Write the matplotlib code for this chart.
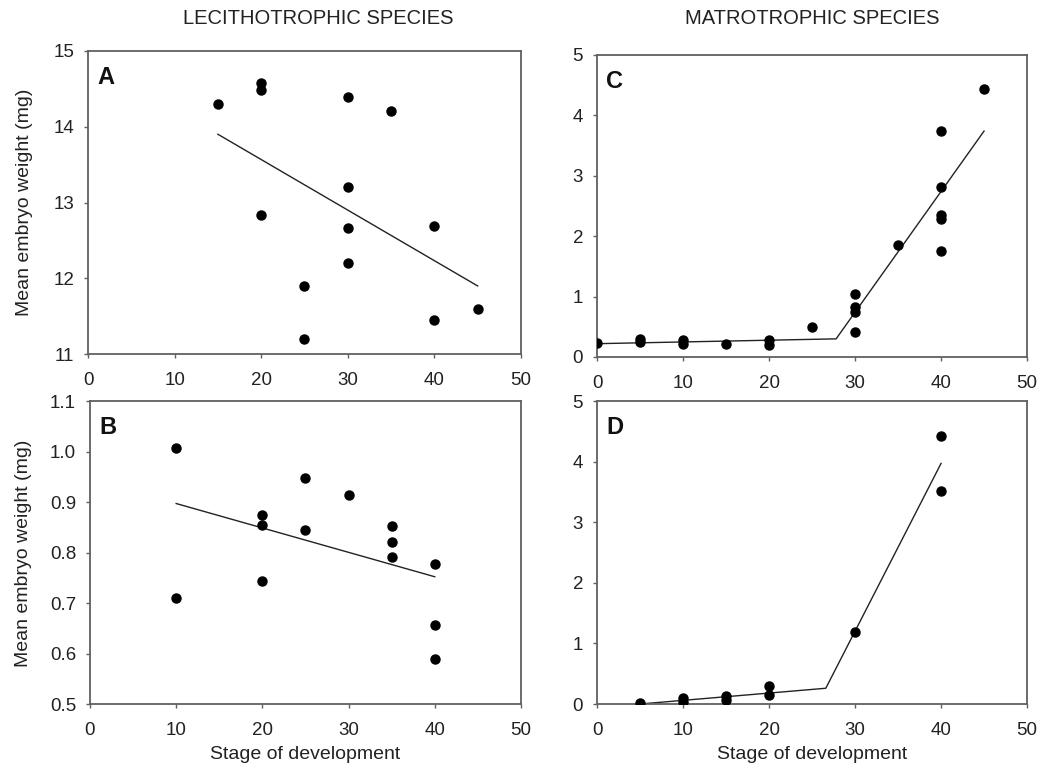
import matplotlib
matplotlib.use('Agg')
import matplotlib.pyplot as plt

plt.rcParams['font.family'] = ['Liberation Sans', 'DejaVu Sans']

# panel A - lecithotrophic, first species
a_x = [15, 20, 20, 20, 25, 25, 30, 30, 30, 30, 35, 40, 40, 45]
a_y = [14.30, 14.57, 14.49, 12.83, 11.90, 11.20, 14.39, 13.20, 12.66, 12.20, 14.20, 12.69, 11.45, 11.59]
a_fit_x = [15, 45]
a_fit_y = [13.90, 11.90]

# panel B - lecithotrophic, second species
b_x = [10, 10, 20, 20, 20, 25, 25, 30, 35, 35, 35, 40, 40, 40]
b_y = [1.007, 0.709, 0.875, 0.854, 0.743, 0.948, 0.845, 0.914, 0.852, 0.820, 0.791, 0.778, 0.657, 0.590]
b_fit_x = [10, 40]
b_fit_y = [0.897, 0.752]

# panel C - matrotrophic, first species
c_x = [0, 5, 5, 10, 10, 15, 20, 20, 25, 30, 30, 30, 30, 35, 40, 40, 40, 40, 40, 45]
c_y = [0.23, 0.30, 0.24, 0.28, 0.21, 0.22, 0.28, 0.19, 0.49, 1.05, 0.83, 0.74, 0.41, 1.86,
       3.74, 2.81, 2.35, 2.28, 1.75, 4.43]
c_fit_x = [0, 27.8, 45]
c_fit_y = [0.22, 0.30, 3.74]

# panel D - matrotrophic, second species
d_x = [5, 10, 10, 15, 15, 20, 20, 30, 40, 40]
d_y = [0.02, 0.10, 0.04, 0.14, 0.07, 0.30, 0.15, 1.19, 4.42, 3.52]
d_fit_x = [5, 26.6, 40]
d_fit_y = [0.0, 0.26, 3.97]


def panel(ax, x, y, fx, fy, letter, ylim, yticks, yfmt):
	ax.plot(fx, fy, color='#222222', lw=1.0, zorder=2)
	ax.plot(x, y, 'o', color='black', ms=6.5, zorder=3)
	ax.set_xlim(0, 50)
	ax.set_ylim(ylim)
	ax.set_xticks([0, 10, 20, 30, 40, 50])
	ax.set_yticks(yticks)
	ax.set_yticklabels([yfmt % v for v in yticks])
	for s in ax.spines.values():
		s.set_color('#606060')
		s.set_linewidth(1.3)
	ax.tick_params(direction='out', length=3, width=1, color='#606060',
		labelsize=13.5, labelcolor='#222222')
	ax.tick_params(axis='y', pad=7)
	ax.tick_params(axis='x', pad=10)
	ax.text(0.022, 0.95, letter, transform=ax.transAxes, fontsize=17,
		fontweight='bold', va='top', ha='left', color='#111111')


fig = plt.figure(figsize=(10.39, 7.70), dpi=100)

axA = fig.add_axes([0.0847, 0.540, 0.4167, 0.394])
axC = fig.add_axes([0.5746, 0.5364, 0.4139, 0.3922])
axB = fig.add_axes([0.0866, 0.0857, 0.4148, 0.3935])
axD = fig.add_axes([0.5746, 0.0857, 0.4139, 0.3935])

panel(axA, a_x, a_y, a_fit_x, a_fit_y, 'A', (11, 15), [11, 12, 13, 14, 15], '%d')
panel(axB, b_x, b_y, b_fit_x, b_fit_y, 'B', (0.5, 1.1), [0.5, 0.6, 0.7, 0.8, 0.9, 1.0, 1.1], '%.1f')
panel(axC, c_x, c_y, c_fit_x, c_fit_y, 'C', (0, 5), [0, 1, 2, 3, 4, 5], '%d')
panel(axD, d_x, d_y, d_fit_x, d_fit_y, 'D', (0, 5), [0, 1, 2, 3, 4, 5], '%d')

axA.set_ylabel('Mean embryo weight (mg)', fontsize=14, color='#222222')
axB.set_ylabel('Mean embryo weight (mg)', fontsize=14, color='#222222')
# place the y labels by hand, the tick label widths differ
axA.yaxis.set_label_coords(33 / 1039.0, 1 - 202 / 770.0, transform=fig.transFigure)
axB.yaxis.set_label_coords(32 / 1039.0, 1 - 553 / 770.0, transform=fig.transFigure)
axB.set_xlabel('Stage of development', fontsize=14, color='#222222', labelpad=5)
axD.set_xlabel('Stage of development', fontsize=14, color='#222222', labelpad=5)

fig.text(318 / 1039.0, 1 - 19 / 770.0, 'LECITHOTROPHIC SPECIES', fontsize=14.5,
	ha='center', va='center', color='#222222')
fig.text(812 / 1039.0, 1 - 19 / 770.0, 'MATROTROPHIC SPECIES', fontsize=14.5,
	ha='center', va='center', color='#222222')

fig.savefig('out.png', dpi=100)
